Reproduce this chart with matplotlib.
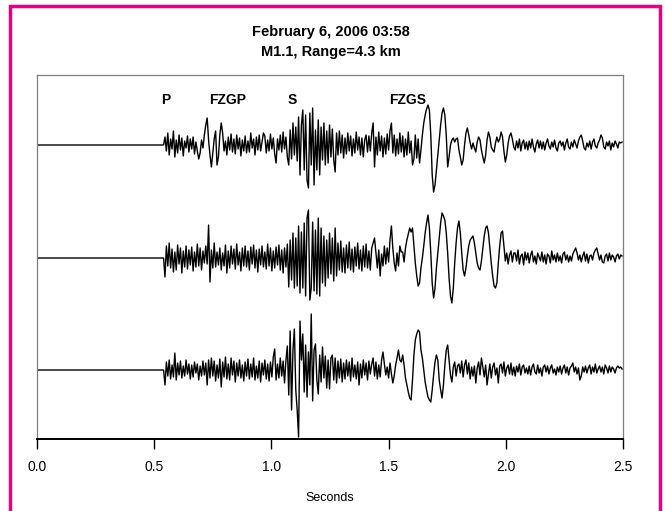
import numpy as np
import matplotlib
matplotlib.use("Agg")
import matplotlib.pyplot as plt
from matplotlib.patches import Rectangle

plt.rcParams['font.family'] = ['Liberation Sans', 'DejaVu Sans']

TITLE = "February 6, 2006 03:58\nM1.1, Range=4.3 km"
XLABEL = "Seconds"
XTICKS = [0.0, 0.5, 1.0, 1.5, 2.0, 2.5]
XTICK_LABELS = ["0.0", "0.5", "1.0", "1.5", "2.0", "2.5"]
PHASES = ["P", "FZGP", "S", "FZGS"]
PHASE_TIMES = [0.55, 0.815, 1.088, 1.583]

ONSET = 0.54   # s, start of the digitised samples
DT = 0.006     # s, sample interval

trace1 = [
    0, 8, -6, 12, -10, 6, -4, 14, -12, 5,
    -8, 10, -5, 7, -11, 4, -3, 9, -7, 6,
    -4, 8, -9, 3, -6, -14, -8, 5, -3, 10,
    20, 27, 5, -10, -22, -8, 6, 14, -20, -12,
    10, 22, 12, -6, 4, -10, 8, -5, 11, -7,
    6, -9, 10, -4, 7, -11, 5, -6, 9, -8,
    4, -7, 12, -3, 6, -10, 8, -5, 10, -6,
    3, 12, 9, -8, 5, -6, 11, -4, 7, -9,
    -18, 6, -5, 10, -7, 13, -4, 8, -12, -20,
    15, -14, 22, -10, 18, -16, 28, -30, 20, 35,
    -25, 30, -35, -43, 32, -20, 37, -40, 15, -25,
    25, -30, 18, -15, 22, -20, 14, -18, 20, -12,
    16, -15, -27, 12, -10, 14, -8, 10, -13, 7,
    -9, 12, -6, 9, -11, 6, -8, 13, -5, 8,
    -10, 7, -12, 5, 10, -7, 9, -6, 12, 22,
    -22, 8, -10, 13, -6, 9, -12, 7, -9, 11,
    -5, 14, 22, -8, 10, -11, 6, -9, 12, -7,
    9, -12, 6, -10, 13, -8, 4, -20, -14, 10,
    -13, 6, -18, -5, 10, 22, 30, 36, 40, 35,
    10, -30, -47, -40, -25, -10, 5, 20, 32, 37,
    30, 10, -22, -12, 0, 5, 7, 3, 6, 7,
    -5, -12, -20, -15, 0, 12, 17, 10, 2, -4,
    2, -3, -7, 3, 8, 5, -5, -12, -18, -10,
    5, 13, 8, -2, -5, -7, 2, 8, 3, 6,
    13, 8, -6, -17, -10, 2, 9, 12, 6, -2,
    -5, 4, -3, 6, -6, 2, 5, -4, 3, -5,
    4, -3, 6, -2, -7, 1, 5, -3, 4, -4,
    3, -5, 2, 6, -1, -4, 3, -2, 5, -3,
    -6, 2, 4, -1, 3, -5, 2, 6, -2, -4,
    3, -2, 5, 1, -3, 4, 8, 10, 4, -3,
    -5, 2, -2, 4, -4, 3, 6, -1, -3, 2,
    5, 10, 7, -2, -4, 3, -1, 4, -5, 2,
    -2, 4, 1, -3, 3, 2, 3,
]

trace2 = [
    0, -19, 12, -8, 15, -10, 9, -14, 6, -12,
    13, -6, 10, -15, 7, -9, 12, -11, 8, -7,
    11, -13, 6, -9, 14, -8, 10, -12, 7, -5,
    12, -6, 33, -24, 8, -10, 15, -9, 6, -7,
    10, -12, 5, -8, 13, -15, 7, -10, 12, -6,
    9, -11, 14, -7, 6, -13, 10, -8, 12, -9,
    7, -12, 11, -6, 13, -10, 8, -14, 9, -7,
    12, -9, 6, -11, 14, -8, 10, -13, 7, -10,
    11, -7, 13, -12, 8, -15, 10, -9, 14, -29,
    18, -22, 25, -30, 20, -28, 32, -35, 26, -30,
    35, -38, 40, 48, -42, -30, 36, -33, 28, -36,
    40, -38, 30, -25, 22, -28, 18, -20, 25, -16,
    20, -23, 30, -18, 15, -12, 17, -14, 10, -15,
    13, -10, 16, -12, 9, -14, 11, -8, 15, -11,
    8, -13, 12, -9, 14, -10, 7, -12, 10, 15,
    20, 5, -10, 8, -18, 4, -8, 12, -6, 10,
    -4, 18, 32, 10, -5, -13, 5, -8, 12, 6,
    6, -4, 10, 18, 24, 30, 26, 30, 12, -5,
    -18, -28, -25, -10, 0, 12, 25, 35, 43, 30,
    5, -25, -40, -30, -10, 5, 20, 35, 45, 42,
    38, 25, 5, -20, -38, -45, -30, -5, 15, 30,
    37, 25, 5, -12, -18, -10, 2, 12, 18, 20,
    22, 15, 5, -5, -10, -12, -3, 10, 22, 30,
    32, 25, 10, -5, -18, -28, -30, -25, -5, 12,
    25, 27, 12, -3, 5, -6, 3, 7, -4, 5,
    5, -3, 8, -6, 2, 4, -7, 6, -2, 5,
    -5, 3, 7, -4, 2, -6, 5, 1, -3, 6,
    -4, 3, -6, 4, 2, -5, 7, -2, 3, -4,
    5, -3, 2, -5, 4, 6, -2, 3, -4, 2,
    -3, 4, 7, 10, 5, -2, 3, -4, 2, 6,
    -3, 4, -5, 2, 3, -2, 5, 8, 10, 4,
    -2, 3, -4, -5, 2, 4, -3, 5, -2, 3,
    1, -4, 2, 4, -1, 3, 2,
]

trace3 = [
    0, -15, 8, -6, 10, -9, 5, -7, 17, -10,
    7, -5, 9, -8, 4, -6, 10, -4, 6, -9,
    5, -7, 8, -3, 6, -10, 4, -6, 9, -5,
    7, -15, 10, -8, 12, -6, 9, -11, 5, -8,
    11, -17, 8, -7, 13, -9, 6, -10, 12, -5,
    9, -12, 7, -6, 10, -8, 5, -11, 8, -6,
    11, -9, 6, -7, 12, -10, 4, -8, 9, -12,
    7, -5, 10, -9, 6, -11, 8, -7, 13, 21,
    -10, 6, -8, 12, -6, 9, -13, 10, 24, -25,
    39, -40, 20, 41, -20, -40, -67, 49, 10, 36,
    -22, 25, -27, 18, -15, 56, -31, 20, 26, -10,
    -24, 15, -12, 23, -8, 14, -18, 10, -19, 12,
    15, -10, 12, -13, 9, -8, 11, -12, 7, -9,
    10, -6, 8, -11, 12, -7, 5, -9, 8, -15,
    6, -8, 10, -5, 7, -10, 9, -4, 6, 12,
    -6, 8, -9, 5, -7, 10, 18, 6, -5, 3,
    -8, 7, -4, -13, -6, 5, 12, 20, 10, 8,
    15, 5, -8, -15, -22, -28, -30, -10, 15, 30,
    36, 40, 38, 20, 12, 0, -12, -20, -27, -30,
    -32, -20, -5, 8, 15, 10, -10, -20, -28, -15,
    5, 20, 25, 10, -5, -12, 3, 8, -6, 4,
    6, -3, 9, -7, 5, 10, -4, 7, -9, 3,
    -6, 4, -13, 2, 8, -5, 12, 3, -7, 5,
    -15, -4, 6, -8, 3, 7, -5, 2, -13, 4,
    6, -3, 8, -6, 2, 5, -4, 7, -5, 3,
    -6, 4, -2, 6, -5, 3, 5, -3, 2, -4,
    4, -5, 3, 6, -2, -4, 5, -3, 2, -6,
    3, 5, -2, 4, -4, 2, 5, -3, 1, -5,
    3, -2, 4, -4, 2, 5, -3, 3, -5, 2,
    4, 7, -2, 3, -4, 2, -10, -6, 3, -2,
    4, -3, 2, 5, -4, 3, -2, 6, -3, 1,
    4, -2, 3, -4, 5, 2, -3, 4, -2, 3,
    1, -3, 2, 4, 2, 3, 1,
]

TRACES = [trace1, trace2, trace3]
OFFSETS = [-145, -258, -370]

W, H = 665, 511
fig = plt.figure(figsize=(W / 100, H / 100), dpi=100)
ax = fig.add_axes([37 / W, (H - 439) / H, (623 - 37) / W, (439 - 75) / H])

for tr, off in zip(TRACES, OFFSETS):
    v = np.asarray(tr, dtype=float)
    t = ONSET + DT * np.arange(len(v))
    t = np.concatenate([[0.0], t])
    v = np.concatenate([[0.0], v])
    ax.plot(t, off + v, color='black', lw=1.0)

ax.set_xlim(0, 2.5)
ax.set_ylim(-439, -75)
ax.set_yticks([])
ax.set_xticks(XTICKS)
ax.set_xticklabels(XTICK_LABELS, fontsize=10)
ax.tick_params(axis='x', direction='out', length=7, width=1.0, pad=8, color='black')
for s in ['left', 'top', 'right']:
    ax.spines[s].set_color('#7f7f7f')
    ax.spines[s].set_linewidth(0.9)
ax.spines['bottom'].set_color('black')
ax.spines['bottom'].set_linewidth(1.4)
ax.set_xlabel(XLABEL, fontsize=9, labelpad=13)

for name, tp in zip(PHASES, PHASE_TIMES):
    ax.text(tp, -100, name, ha='center', va='center', fontsize=10, fontweight='bold')

fig.text(331 / W, 1 - 32 / H, TITLE.split("\n")[0], ha='center', va='center',
         fontsize=10.5, fontweight='bold')
fig.text(331 / W, 1 - 52 / H, TITLE.split("\n")[1], ha='center', va='center',
         fontsize=10.5, fontweight='bold')

frame = Rectangle((10 / W, -0.05), (660 - 10) / W, (H - 6) / H + 0.05,
                  transform=fig.transFigure, fill=False, edgecolor='#e5007d',
                  linewidth=2.5)
fig.patches.append(frame)

fig.savefig("out.png", dpi=100)
